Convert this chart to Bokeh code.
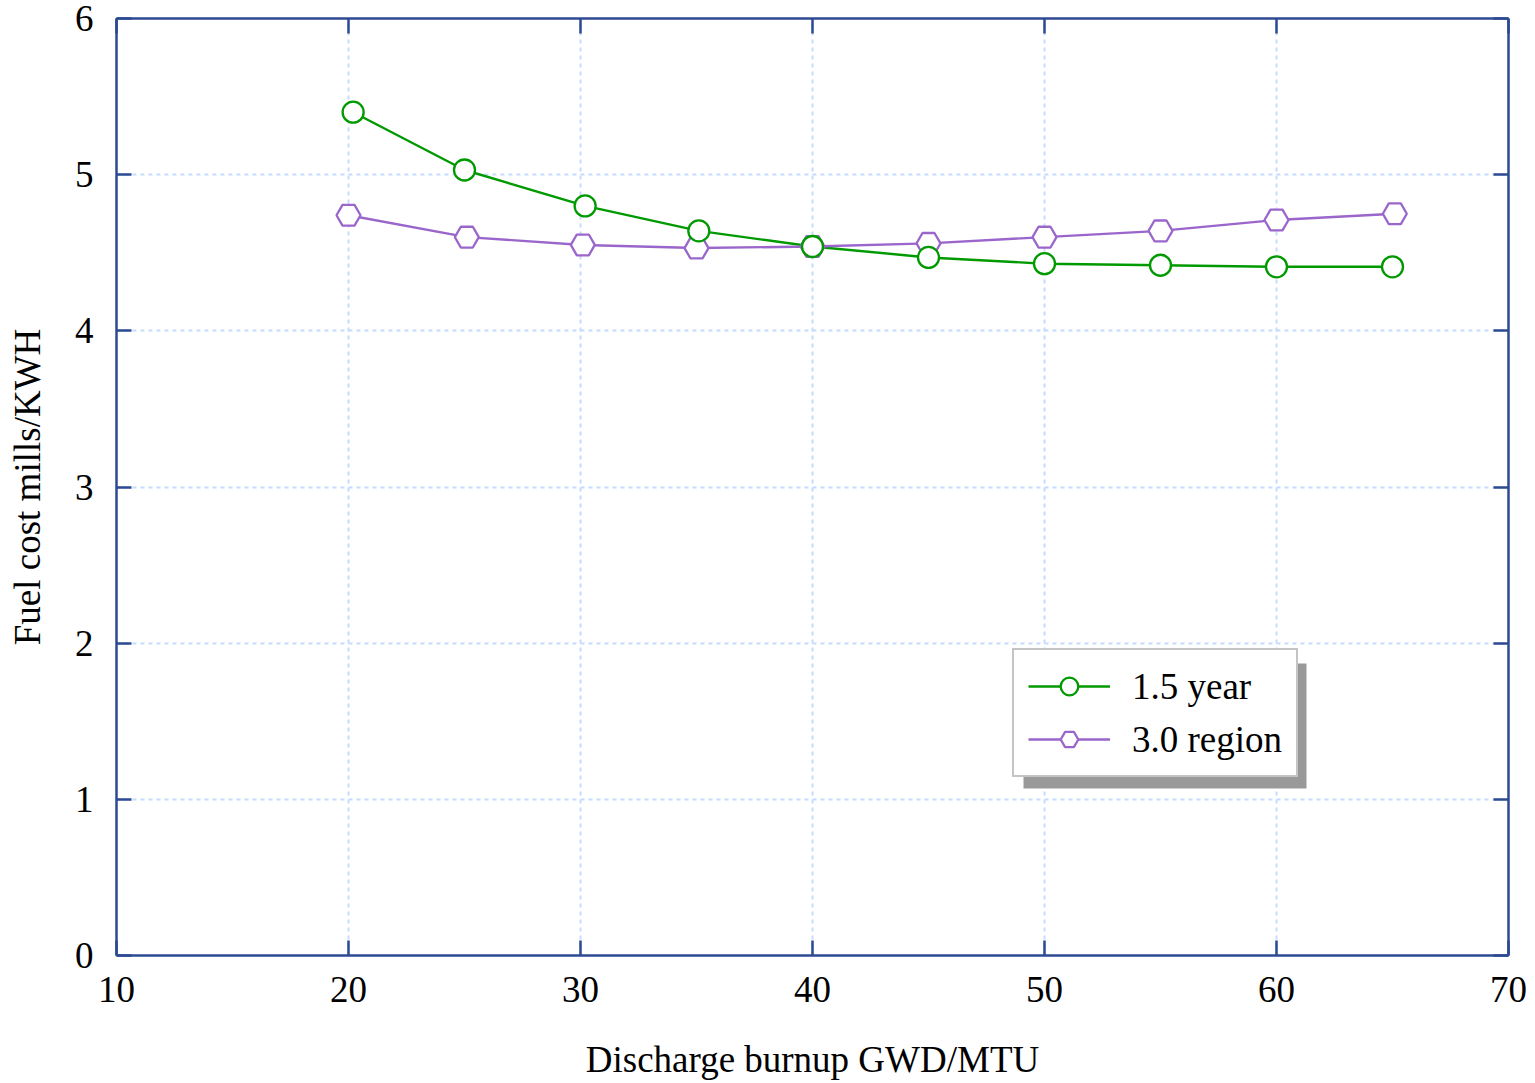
from bokeh.plotting import figure
from bokeh.models import (LinearAxis, Legend, LegendItem, BoxAnnotation, Range1d,
                          FixedTicker)
from bokeh.embed import file_html
from bokeh.resources import INLINE

# ---- data ----
x_year = [20.2, 25.0, 30.2, 35.1, 40.0, 45.0, 50.0, 55.0, 60.0, 65.0]
y_year = [5.40, 5.03, 4.80, 4.64, 4.54, 4.47, 4.43, 4.42, 4.41, 4.41]
x_region = [20.0, 25.1, 30.1, 35.0, 40.0, 45.0, 50.0, 55.0, 60.0, 65.1]
y_region = [4.74, 4.60, 4.55, 4.53, 4.54, 4.56, 4.60, 4.64, 4.71, 4.75]
x_ticks = [10, 20, 30, 40, 50, 60, 70]
y_ticks = [0, 1, 2, 3, 4, 5, 6]
series_names = ["1.5 year", "3.0 region"]

FONT = "Liberation Serif"
AXIS_COLOR = "#2c4a92"
GREEN = "#009a00"
PURPLE = "#9a66cc"
FS = "37px"

p = figure(width=1535, height=1083, output_backend="svg", toolbar_location=None,
           x_range=Range1d(10, 70), y_range=Range1d(0, 6),
           min_border_left=116, min_border_right=27, min_border_top=18,
           min_border_bottom=128, x_axis_location=None, y_axis_location=None)
p.outline_line_color = None
p.background_fill_color = "white"
p.border_fill_color = "white"

def style_axis(ax, ticks, labels=True):
    ax.axis_line_color = AXIS_COLOR
    ax.axis_line_width = 2.5
    ax.major_tick_line_color = AXIS_COLOR
    ax.major_tick_line_width = 2.5
    ax.major_tick_in = 15
    ax.major_tick_out = 0
    ax.minor_tick_line_color = None
    ax.major_label_text_font = FONT
    ax.major_label_text_color = "black"
    ax.axis_label_text_font = FONT
    ax.axis_label_text_font_style = "normal"
    ax.axis_label_text_color = "black"
    ax.axis_label_text_font_size = FS
    if labels:
        ax.major_label_text_font_size = FS
        ax.major_label_standoff = 21
        ax.axis_label_standoff = 26
    else:
        ax.major_label_overrides = {t: "" for t in ticks}
        ax.major_label_text_font_size = "2px"
        ax.major_label_standoff = 0
        ax.axis_label_standoff = 0

xb = LinearAxis(ticker=FixedTicker(ticks=x_ticks), axis_label="Discharge burnup GWD/MTU")
yl = LinearAxis(ticker=FixedTicker(ticks=y_ticks), axis_label="Fuel cost mills/KWH")
xt = LinearAxis(ticker=FixedTicker(ticks=x_ticks))
yr = LinearAxis(ticker=FixedTicker(ticks=y_ticks))
style_axis(xb, x_ticks); style_axis(yl, y_ticks)
style_axis(xt, x_ticks, False); style_axis(yr, y_ticks, False)
xb.axis_label_standoff = 34
yl.major_label_standoff = 23
yl.axis_label_standoff = 24
p.add_layout(xb, "below")
p.add_layout(yl, "left")
p.add_layout(xt, "above")
p.add_layout(yr, "right")

p.xgrid.ticker = FixedTicker(ticks=x_ticks)
p.ygrid.ticker = FixedTicker(ticks=y_ticks)
for g in (p.xgrid, p.ygrid):
    g.grid_line_color = "#c4dbff"
    g.grid_line_width = 2
    g.grid_line_dash = "4 4"

l1 = p.line(x_year, y_year, line_color=GREEN, line_width=2.4)
s1 = p.scatter(x_year, y_year, marker="circle", size=21, line_color=GREEN,
               fill_color="white", line_width=2.3)
l2 = p.line(x_region, y_region, line_color=PURPLE, line_width=2.4)
s2 = p.scatter(x_region, y_region, marker="hex", size=24, line_color=PURPLE,
               fill_color="white", line_width=2.3)
s1.level = "overlay"

# legend shadow
shadow = BoxAnnotation(left=907, right=1190, bottom=167, top=292,
                       left_units="screen", right_units="screen",
                       bottom_units="screen", top_units="screen",
                       fill_color="#999999", fill_alpha=1.0, line_color=None,
                       level="annotation")
p.add_layout(shadow)

legend = Legend(items=[LegendItem(label=series_names[0], renderers=[l1, s1]),
                       LegendItem(label=series_names[1], renderers=[l2, s2])],
                location=(896, 178))
legend.label_text_font = FONT
legend.label_text_font_size = FS
legend.label_text_color = "black"
legend.glyph_width = 82
legend.glyph_height = 44
legend.label_height = 44
legend.label_standoff = 22
legend.spacing = 9
legend.padding = 14
legend.margin = 0
legend.border_line_color = "#8a8a8a"
legend.border_line_width = 2
legend.background_fill_color = "white"
legend.background_fill_alpha = 1.0
p.add_layout(legend, "center")

open("out.html", "w").write(file_html(p, INLINE))
